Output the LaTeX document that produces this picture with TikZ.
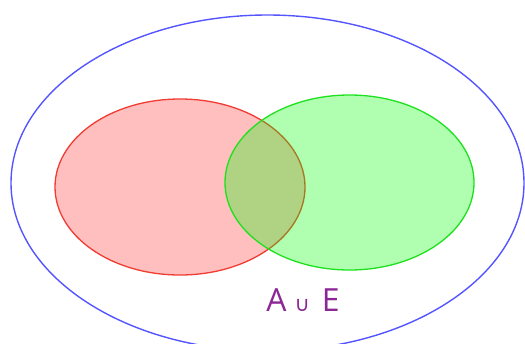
\documentclass[tikz,border=0pt]{standalone}
\usepackage{fontspec}
\setmainfont{Open Sans}
\newfontfamily\symfont{DejaVu Sans}
\definecolor{outerblue}{RGB}{85,85,255}
\definecolor{setred}{RGB}{240,60,50}
\definecolor{setgreen}{RGB}{30,225,30}
\definecolor{labelpurple}{RGB}{140,40,150}
\tikzset{
  universe/.style={draw=outerblue, line width=1.4bp},
  seta/.style={draw=setred, fill=red, fill opacity=0.25, draw opacity=1, line width=1.3bp},
  sete/.style={draw=setgreen, fill=green, fill opacity=0.31, draw opacity=1, line width=1.3bp},
  lbl/.style={text=labelpurple, font=\fontsize{32}{32}\selectfont, inner sep=0pt}
}
\begin{document}
\begin{tikzpicture}[x=1bp, y=-1bp]
\useasboundingbox (0,0) rectangle (525,343);
\fill[white] (0,0) rectangle (525,343);
\draw[universe] (267.5,183) ellipse [x radius=256.5, y radius=168];
\path[seta] (180,187) ellipse [x radius=125, y radius=88];
\path[sete] (349.5,182.5) ellipse [x radius=124.5, y radius=87.5];
\node[lbl] (label) at (303,300) {A\hspace{8bp}{\symfont\fontsize{21}{21}\selectfont ∪}\hspace{12bp}E};
\end{tikzpicture}
\end{document}
